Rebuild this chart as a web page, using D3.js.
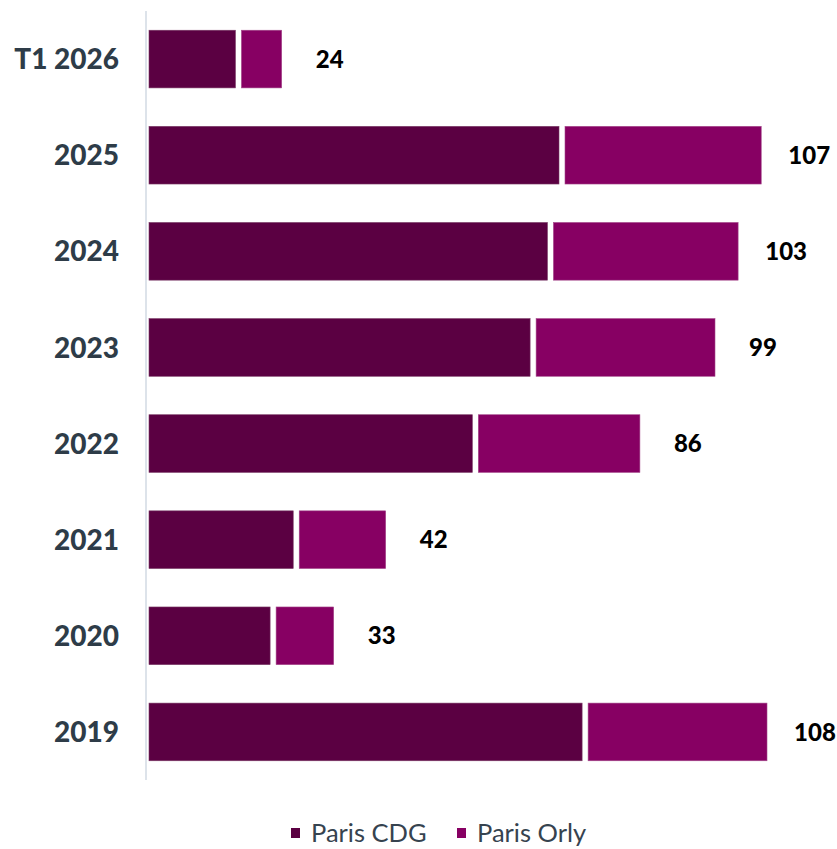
<!DOCTYPE html>
<html>
<head>
<meta charset="utf-8">
<script src="https://cdn.jsdelivr.net/npm/d3@7"></script>
<style>
  body { margin: 0; background: #fff; }
  svg { display: block; font-family: Lato, "Open Sans", sans-serif; }
</style>
</head>
<body>
<div id="chart"></div>
<script>
// passagers (millions) par année
var categories = ["T1 2026", "2025", "2024", "2023", "2022", "2021", "2020", "2019"];
var cdg = [16, 72, 70, 67, 57, 26, 22, 76];
var orly = [8, 35, 33, 32, 29, 16, 11, 32];
var seriesNames = ["Paris CDG", "Paris Orly"];
var colors = ["#5b0042", "#870063"];

var width = 837, height = 849;

var svg = d3.select("#chart").append("svg")
    .attr("width", width)
    .attr("height", height);

var x = d3.scaleLinear().domain([0, 108]).range([146, 770]);
var y = d3.scaleBand().domain(categories).range([11, 780])
    .paddingInner(0.4).paddingOuter(0.2);

var rows = categories.map(function(c, i) {
  return { cat: c, vals: [cdg[i], orly[i]], total: cdg[i] + orly[i] };
});

// axe vertical
svg.append("line")
   .attr("x1", x(0)).attr("x2", x(0))
   .attr("y1", y.range()[0]).attr("y2", y.range()[1])
   .attr("stroke", "#dde3ea")
   .attr("stroke-width", 2);

var gap = 3;
var row = svg.selectAll(".row").data(rows).enter()
  .append("g").attr("class", "row");

row.each(function(d) {
  var g = d3.select(this), start = 0;
  d.vals.forEach(function(v, k) {
    g.append("rect")
     .attr("x", x(start) + gap)
     .attr("y", y(d.cat))
     .attr("width", x(start + v) - x(start) - 2 * gap)
     .attr("height", y.bandwidth())
     .attr("fill", colors[k])
     .attr("stroke", k == 0 ? "#7a3a66" : "#a4478a")
     .attr("stroke-width", 0.6);
    start += v;
  });
});

// libellés catégories
row.append("text")
   .attr("x", 119)
   .attr("y", function(d) { return y(d.cat) + y.bandwidth() / 2; })
   .attr("dy", "0.36em")
   .attr("text-anchor", "end")
   .attr("font-size", 28)
   .attr("font-weight", 900)
   .attr("fill", "#2e3c48")
   .text(function(d) { return d.cat; });

// totaux
row.append("text")
   .attr("x", function(d) { return x(d.total) + 45; })
   .attr("y", function(d) { return y(d.cat) + y.bandwidth() / 2; })
   .attr("dy", "0.36em")
   .attr("text-anchor", "middle")
   .attr("font-size", 24)
   .attr("font-weight", 900)
   .attr("fill", "#000")
   .text(function(d) { return d.total; });

// légende
var legend = svg.append("g").attr("transform", "translate(0,833)");
var lx = [291, 457];
seriesNames.forEach(function(name, k) {
  legend.append("rect")
        .attr("x", lx[k]).attr("y", -5)
        .attr("width", 9).attr("height", 10)
        .attr("fill", colors[k]);
  legend.append("text")
        .attr("x", lx[k] + 20).attr("y", 0)
        .attr("dy", "0.36em")
        .attr("font-size", 25.5)
        .attr("fill", "#36434f")
        .text(name);
});
</script>
</body>
</html>
